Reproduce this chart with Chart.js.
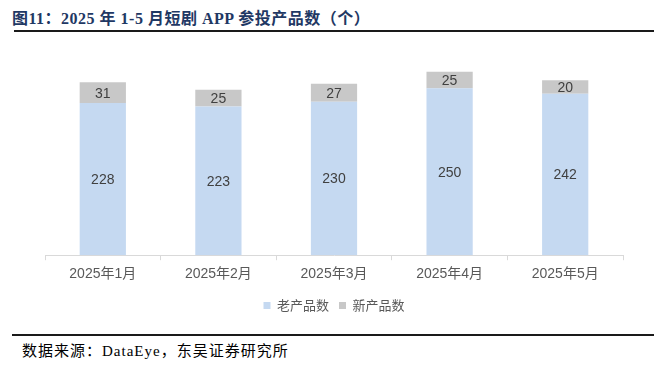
<!DOCTYPE html>
<html>
<head>
<meta charset="utf-8">
<script src="https://cdn.jsdelivr.net/npm/chart.js@4.4.1/dist/chart.umd.min.js"></script>
<style>
  body { margin: 0; width: 654px; height: 366px; background: #fff; position: relative; overflow: hidden; }
  #title { position: absolute; left: 12px; top: 5px; font-family: "Liberation Serif", "Noto Sans CJK SC", serif; font-weight: bold; font-size: 16px; letter-spacing: 0.5px; color: #1f3864; white-space: nowrap; }
  #topline { position: absolute; left: 14px; top: 30px; width: 640px; height: 2px; background: #1a1a1a; }
  #bottomline { position: absolute; left: 12px; top: 334px; width: 642px; height: 2px; background: #1a1a1a; }
  #source { position: absolute; left: 22px; top: 339px; font-family: "Liberation Serif", "Noto Sans CJK SC", serif; font-size: 15px; letter-spacing: 1px; color: #000; white-space: nowrap; }
  #box { position: absolute; left: 0; top: 44px; width: 654px; height: 280px; }
</style>
</head>
<body>
<div id="title">图11：2025 年 1-5 月短剧 APP 参投产品数（个）</div>
<div id="topline"></div>
<div id="box"><canvas id="chart"></canvas></div>
<div id="bottomline"></div>
<div id="source">数据来源：DataEye，东吴证券研究所</div>
<script>
let months = ["2025年1月", "2025年2月", "2025年3月", "2025年4月", "2025年5月"]
let oldProducts = [228, 223, 230, 250, 242]
let newProducts = [31, 25, 27, 25, 20]

// draw the value in the middle of each bar segment
let barLabels = {
    id: 'barLabels',
    afterDatasetsDraw(chart) {
        let ctx = chart.ctx
        ctx.save()
        ctx.font = '14px "Liberation Sans", Arial, sans-serif'
        ctx.fillStyle = '#404040'
        ctx.textAlign = 'center'
        ctx.textBaseline = 'middle'
        chart.data.datasets.forEach(function (ds, i) {
            let meta = chart.getDatasetMeta(i)
            meta.data.forEach(function (bar, j) {
                let mid = (bar.y + bar.base) / 2
                ctx.fillText(String(ds.data[j]), bar.x, mid + 1)
            })
        })
        ctx.restore()
    }
}

let ctx = document.getElementById("chart")
let chart = new Chart(ctx, {
    type: 'bar',
    data: {
        labels: months,
        datasets: [{
            label: "老产品数",
            data: oldProducts,
            backgroundColor: '#c5d9f1',
            borderWidth: 0,
            categoryPercentage: 0.4,
            barPercentage: 1
        },
        {
            label: "新产品数",
            data: newProducts,
            backgroundColor: '#c8c8c8',
            borderWidth: 0,
            categoryPercentage: 0.4,
            barPercentage: 1
        }]
    },
    options: {
        responsive: true,
        maintainAspectRatio: false,
        animation: false,
        layout: {
            padding: { left: 45, right: 31, top: 11, bottom: 2 }
        },
        scales: {
            x: {
                stacked: true,
                grid: {
                    drawOnChartArea: false,
                    drawTicks: true,
                    tickLength: 5,
                    color: '#d9d9d9'
                },
                border: { display: true, color: '#d9d9d9' },
                ticks: {
                    color: '#595959',
                    padding: 6,
                    font: { size: 14, family: '"Liberation Sans", "Noto Sans CJK SC", sans-serif' }
                }
            },
            y: {
                stacked: true,
                display: false,
                min: 0,
                max: 300
            }
        },
        plugins: {
            legend: {
                display: true,
                position: 'bottom',
                labels: {
                    boxWidth: 7,
                    boxHeight: 7,
                    padding: 10,
                    color: '#595959',
                    font: { size: 13, family: '"Noto Sans CJK SC", sans-serif' }
                }
            },
            tooltip: { enabled: false }
        }
    },
    plugins: [barLabels]
})
</script>
</body>
</html>
